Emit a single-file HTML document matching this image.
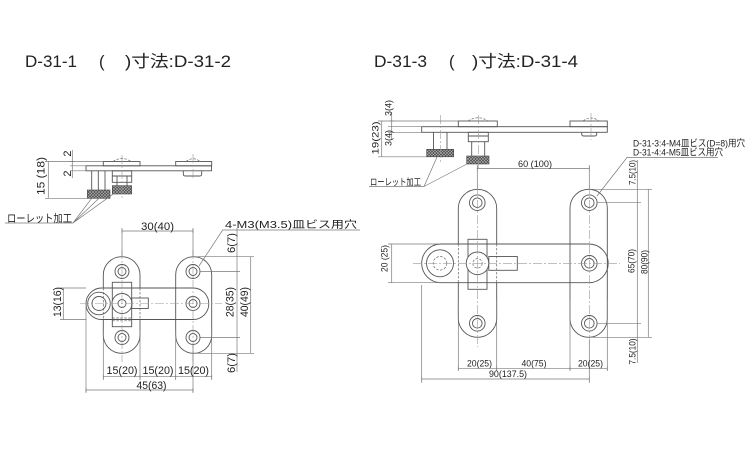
<!DOCTYPE html>
<html><head><meta charset="utf-8"><style>
html,body{margin:0;padding:0;background:#fff;}
svg{display:block;}
text{font-family:"Liberation Sans","Noto Sans CJK JP",sans-serif;fill:#222;}
.o{fill:none;stroke:#555;stroke-width:0.9;}
.w{fill:#fff;stroke:#555;stroke-width:0.9;}
.h{fill:none;stroke:#666;stroke-width:0.7;stroke-dasharray:2.5 1.5;}
.d{fill:none;stroke:#7a7a7a;stroke-width:0.7;}
.c{fill:none;stroke:#999;stroke-width:0.6;stroke-dasharray:9 2 2 2;}
.s{font-size:11px;}
.r{font-size:9.5px;}
</style></head><body>
<svg width="750" height="450" viewBox="0 0 750 450" xmlns="http://www.w3.org/2000/svg">
<defs>
<pattern id="kn" width="3" height="3" patternUnits="userSpaceOnUse">
<rect width="3" height="3" fill="#4a4a4a"/>
<path d="M0,0 L3,3 M3,0 L0,3" stroke="#b5b5b5" stroke-width="0.55"/>
</pattern>
</defs>

<!-- TITLES -->
<text x="25" y="67" font-size="16.5" textLength="52" lengthAdjust="spacingAndGlyphs">D-31-1</text>
<text x="99" y="67" font-size="16.5">(</text>
<text x="125" y="67" font-size="16.5" textLength="106" lengthAdjust="spacingAndGlyphs">)寸法:D-31-2</text>
<text x="374" y="67" font-size="16.5" textLength="53" lengthAdjust="spacingAndGlyphs">D-31-3</text>
<text x="449" y="67" font-size="16.5">(</text>
<text x="472" y="67" font-size="16.5" textLength="106" lengthAdjust="spacingAndGlyphs">)寸法:D-31-4</text>

<!-- ================= LEFT SIDE VIEW ================= -->
<rect class="o" x="86" y="165.8" width="125.5" height="5"/>
<rect class="o" x="103.3" y="161.5" width="36.7" height="4.3"/>
<rect class="o" x="175.7" y="161.5" width="36" height="4.3"/>
<path class="h" d="M113,161.5 Q122,155.5 131,161.5"/>
<path class="h" d="M186,161.5 Q193,156 200,161.5"/>
<rect class="o" x="112.3" y="170.8" width="19.4" height="11.5"/>
<line class="o" x1="112.3" y1="176" x2="131.7" y2="176"/>
<path class="o" d="M117,176 V185.7 M127,176 V185.7"/>
<rect x="112.3" y="185.7" width="19.4" height="8.3" fill="url(#kn)" stroke="#444" stroke-width="0.6"/>
<path class="o" d="M91.7,170.8 V190 M98.3,170.8 V190 M105,170.8 V190"/>
<rect x="87.3" y="190" width="22.7" height="8.3" fill="url(#kn)" stroke="#444" stroke-width="0.6"/>
<path class="o" d="M183.3,170.8 V174 Q183.3,176 185.3,176 H199.7 Q201.7,176 201.7,174 V170.8"/>
<line class="c" x1="122" y1="155" x2="122" y2="198"/>
<line class="c" x1="193" y1="154" x2="193" y2="180"/>
<!-- dims -->
<path class="d" d="M48.3,161.5 V198.3 M45,161.5 H103 M45,198.3 H87 M46.3,161.5 H50.3 M46.3,198.3 H50.3"/>
<path class="d" d="M72.3,150 V178 M70,165.8 H86 M70,170.8 H86 M70.3,161.5 H74.3 M70.3,165.8 H74.3 M70.3,170.8 H74.3"/>
<text class="s" transform="translate(41.5,176) rotate(-90)" text-anchor="middle" dominant-baseline="central" textLength="38" lengthAdjust="spacingAndGlyphs">15 (18)</text>
<text class="s" transform="translate(68,153.5) rotate(-90)" text-anchor="middle" dominant-baseline="central">2</text>
<text class="s" transform="translate(68,173.5) rotate(-90)" text-anchor="middle" dominant-baseline="central">2</text>
<!-- leader -->
<text class="s" x="7" y="222" textLength="65" lengthAdjust="spacingAndGlyphs">ローレット加工</text>
<path class="d" d="M5,223 H73 L91.7,198.3 M73,223 L100,197.3 M73,223 L115,192.7"/>

<!-- ================= LEFT FRONT VIEW ================= -->
<rect class="o" x="103.3" y="256.7" width="36.7" height="96.6" rx="18.35"/>
<rect class="w" x="86" y="288" width="122.8" height="31.5" rx="15.75"/>
<path class="h" d="M103.3,288 V319.5 M140,288 V319.5"/>
<rect class="o" x="175.7" y="256.7" width="36" height="96.6" rx="18"/>
<circle class="o" cx="99" cy="303.5" r="11.3"/>
<circle class="o" cx="99" cy="303.5" r="7"/>
<rect class="o" x="112.3" y="282.3" width="19.4" height="44.4"/>
<path class="h" d="M112.3,318 H131.7 M112.3,320.8 H131.7"/>
<circle class="w" cx="122" cy="303.5" r="10"/>
<circle class="o" cx="122" cy="303.5" r="4"/>
<rect class="o" x="131.7" y="298" width="16.6" height="10.5"/>
<g class="o">
<circle cx="122" cy="271.5" r="7"/><circle cx="122" cy="271.5" r="4"/>
<circle cx="122" cy="337.5" r="7"/><circle cx="122" cy="337.5" r="4"/>
<circle cx="193" cy="271.5" r="7"/><circle cx="193" cy="271.5" r="4"/>
<circle cx="193" cy="303.5" r="7"/><circle cx="193" cy="303.5" r="4"/>
<circle cx="193" cy="337.5" r="7"/><circle cx="193" cy="337.5" r="4"/>
</g>
<line class="c" x1="80" y1="303.5" x2="222" y2="303.5"/>
<line class="c" x1="122" y1="250" x2="122" y2="362"/>
<line class="c" x1="193" y1="250" x2="193" y2="362"/>
<!-- extension lines -->
<path class="d" d="M122,228 V256 M193,228 V256 M193,345 V393 M86,306 V393 M103.3,330 V380 M140,330 V380 M175.7,330 V380 M211.7,330 V380"/>
<!-- dim lines -->
<path class="d" d="M122,231 H193 M122,229 V233 M193,229 V233"/>
<path class="d" d="M103.3,376.7 H211.7 M103.3,374.7 V378.7 M140,374.7 V378.7 M175.7,374.7 V378.7 M211.7,374.7 V378.7"/>
<path class="d" d="M86,390 H193 M86,388 V392 M193,388 V392"/>
<path class="d" d="M60,288 H86 M60,319.5 H86 M63.3,288 V319.5 M61.3,288 H65.3 M61.3,319.5 H65.3"/>
<path class="d" d="M195,256.7 H254 M200,271.5 H240 M200,337.5 H240 M195,353.3 H254 M237,228 V372 M235,256.7 H239 M235,271.5 H239 M235,337.5 H239 M235,353.3 H239 M250.7,256.7 V353.3 M248.7,256.7 H252.7 M248.7,353.3 H252.7"/>
<text class="s" x="157.5" y="230" text-anchor="middle" textLength="33" lengthAdjust="spacingAndGlyphs">30(40)</text>
<text class="s" x="122" y="374" text-anchor="middle" textLength="31" lengthAdjust="spacingAndGlyphs">15(20)</text>
<text class="s" x="158" y="374" text-anchor="middle" textLength="31" lengthAdjust="spacingAndGlyphs">15(20)</text>
<text class="s" x="193.5" y="374" text-anchor="middle" textLength="31" lengthAdjust="spacingAndGlyphs">15(20)</text>
<text class="s" x="151.5" y="389" text-anchor="middle" textLength="30" lengthAdjust="spacingAndGlyphs">45(63)</text>
<text class="s" transform="translate(58,302) rotate(-90)" text-anchor="middle" dominant-baseline="central" textLength="30" lengthAdjust="spacingAndGlyphs">13(16)</text>
<text class="s" transform="translate(232,243) rotate(-90)" text-anchor="middle" dominant-baseline="central" textLength="20" lengthAdjust="spacingAndGlyphs">6(7)</text>
<text class="s" transform="translate(230.5,302) rotate(-90)" text-anchor="middle" dominant-baseline="central" textLength="30" lengthAdjust="spacingAndGlyphs">28(35)</text>
<text class="s" transform="translate(245,302) rotate(-90)" text-anchor="middle" dominant-baseline="central" textLength="30" lengthAdjust="spacingAndGlyphs">40(49)</text>
<text class="s" transform="translate(232,363) rotate(-90)" text-anchor="middle" dominant-baseline="central" textLength="20" lengthAdjust="spacingAndGlyphs">6(7)</text>
<!-- leader -->
<text x="225" y="228" font-size="10" textLength="132" lengthAdjust="spacingAndGlyphs">4-M3(M3.5)皿ビス用穴</text>
<path class="d" d="M360,230 H222.7 L199,266"/>

<!-- ================= RIGHT SIDE VIEW ================= -->
<rect class="o" x="421.7" y="126.7" width="185.6" height="5.6"/>
<rect class="o" x="458.3" y="121" width="39" height="5.7"/>
<rect class="o" x="570" y="121" width="37.3" height="5.7"/>
<path class="h" d="M468,121 Q478,114.5 488,121"/>
<path class="h" d="M583,121 Q591,115 599,121"/>
<rect class="o" x="468.3" y="132.3" width="20" height="9.4"/>
<line class="o" x1="468.3" y1="136" x2="488.3" y2="136"/>
<path class="o" d="M581.7,132.3 V134 Q581.7,136 583.7,136 H594.7 Q596.7,136 596.7,134 V132.3"/>
<path class="o" d="M433.5,132.3 V149.3 M447,132.3 V149.3"/>
<rect x="426.7" y="149.3" width="27" height="7.5" fill="url(#kn)" stroke="#444" stroke-width="0.6"/>
<path class="o" d="M471.7,141.7 V156 M484.7,141.7 V156"/>
<rect x="466.7" y="156" width="22.3" height="8" fill="url(#kn)" stroke="#444" stroke-width="0.6"/>
<line class="c" x1="440.5" y1="115" x2="440.5" y2="162"/>
<line class="c" x1="478.3" y1="115" x2="478.3" y2="170"/>
<line class="c" x1="591" y1="113" x2="591" y2="140"/>
<!-- dims -->
<path class="d" d="M381.7,121 V156.8 M378,121 H458.3 M378,156.8 H427 M379.7,121 H383.7 M379.7,156.8 H383.7"/>
<path class="d" d="M391.7,112 V140 M388,126.7 H421.7 M388,132.3 H421.7 M389.7,121 H393.7 M389.7,126.7 H393.7 M389.7,132.3 H393.7"/>
<text class="r" transform="translate(389,108) rotate(-90)" text-anchor="middle" dominant-baseline="central" textLength="16" lengthAdjust="spacingAndGlyphs">3(4)</text>
<text class="r" transform="translate(376,138) rotate(-90)" text-anchor="middle" dominant-baseline="central" textLength="33" lengthAdjust="spacingAndGlyphs">19(23)</text>
<text class="r" transform="translate(389,138) rotate(-90)" text-anchor="middle" dominant-baseline="central" textLength="16" lengthAdjust="spacingAndGlyphs">3(4)</text>
<!-- leader -->
<text class="r" x="370" y="185.5" textLength="51" lengthAdjust="spacingAndGlyphs">ローレット加工</text>
<path class="d" d="M369,186.5 H424 L437,157 M424,186.5 L467,164"/>

<!-- ================= RIGHT FRONT VIEW ================= -->
<rect class="o" x="458.3" y="189.3" width="38.4" height="148" rx="19.2"/>
<rect class="w" x="421.7" y="244" width="186.5" height="38.7" rx="19.35"/>
<path class="h" d="M458.3,244 V282.7 M496.7,244 V282.7"/>
<rect class="o" x="570" y="189.3" width="37.3" height="148" rx="18.65"/>
<circle class="o" cx="440" cy="263.3" r="13.5"/>
<circle class="h" cx="440" cy="263.3" r="6.8"/>
<rect class="o" x="468" y="239.3" width="19" height="50"/>
<path class="h" d="M468,282.7 H487"/>
<circle class="w" cx="477.5" cy="263.3" r="11.3"/>
<circle class="h" cx="477.5" cy="263.3" r="4.7"/>
<rect class="o" x="488.8" y="256.5" width="28.5" height="13.8"/>
<g class="o">
<circle cx="477.3" cy="202.7" r="7.8"/><circle cx="477.3" cy="202.7" r="4.8"/>
<circle cx="477.3" cy="323.3" r="7.8"/><circle cx="477.3" cy="323.3" r="4.8"/>
<circle cx="589.3" cy="202.7" r="7.8"/><circle cx="589.3" cy="202.7" r="4.8"/>
<circle cx="589.3" cy="263.3" r="7.8"/><circle cx="589.3" cy="263.3" r="4.8"/>
<circle cx="589.3" cy="323.3" r="7.8"/><circle cx="589.3" cy="323.3" r="4.8"/>
</g>
<line class="c" x1="413" y1="263.3" x2="620" y2="263.3"/>
<line class="c" x1="477.3" y1="185" x2="477.3" y2="347"/>
<line class="c" x1="589.3" y1="185" x2="589.3" y2="347"/>
<!-- extension lines -->
<path class="d" d="M477.3,165 V189 M589.3,165 V189 M589.3,340 V383 M421.7,285 V383 M458.3,300 V371 M496.7,300 V371 M570,300 V371 M607.3,300 V371"/>
<!-- dim lines -->
<path class="d" d="M477.3,168.5 H589.3 M477.3,166.5 V170.5 M589.3,166.5 V170.5"/>
<path class="d" d="M458.3,368.3 H607.3 M458.3,366.3 V370.3 M496.7,366.3 V370.3 M570,366.3 V370.3 M607.3,366.3 V370.3"/>
<path class="d" d="M421.7,379 H589.3 M421.7,377 V381 M589.3,377 V381"/>
<path class="d" d="M388,244 H440 M388,282.7 H440 M391.7,244 V282.7 M389.7,244 H393.7 M389.7,282.7 H393.7"/>
<path class="d" d="M592,189.3 H652 M597,202.7 H641 M597,323.3 H641 M592,337.3 H652 M637.3,160 V363 M635.3,189.3 H639.3 M635.3,202.7 H639.3 M635.3,323.3 H639.3 M635.3,337.3 H639.3 M648.3,189.3 V337.3 M646.3,189.3 H650.3 M646.3,337.3 H650.3"/>
<text class="r" x="535" y="167" text-anchor="middle" textLength="34" lengthAdjust="spacingAndGlyphs">60 (100)</text>
<text class="r" x="479.5" y="366.5" text-anchor="middle" textLength="25" lengthAdjust="spacingAndGlyphs">20(25)</text>
<text class="r" x="534" y="366.5" text-anchor="middle" textLength="25" lengthAdjust="spacingAndGlyphs">40(75)</text>
<text class="r" x="590.5" y="366.5" text-anchor="middle" textLength="25" lengthAdjust="spacingAndGlyphs">20(25)</text>
<text class="r" x="508" y="377" text-anchor="middle" textLength="38" lengthAdjust="spacingAndGlyphs">90(137.5)</text>
<text class="r" transform="translate(385,258.5) rotate(-90)" text-anchor="middle" dominant-baseline="central" textLength="27" lengthAdjust="spacingAndGlyphs">20 (25)</text>
<text class="r" transform="translate(633,172.5) rotate(-90)" text-anchor="middle" dominant-baseline="central" textLength="25" lengthAdjust="spacingAndGlyphs">7.5(10)</text>
<text class="r" transform="translate(632,261) rotate(-90)" text-anchor="middle" dominant-baseline="central" textLength="24" lengthAdjust="spacingAndGlyphs">65(70)</text>
<text class="r" transform="translate(645,262) rotate(-90)" text-anchor="middle" dominant-baseline="central" textLength="24" lengthAdjust="spacingAndGlyphs">80(90)</text>
<text class="r" transform="translate(633,351.5) rotate(-90)" text-anchor="middle" dominant-baseline="central" textLength="26" lengthAdjust="spacingAndGlyphs">7.5(10)</text>
<!-- leader -->
<text class="r" x="633" y="146.5" textLength="112" lengthAdjust="spacingAndGlyphs">D-31-3:4-M4皿ビス(D=8)用穴</text>
<text class="r" x="633" y="155.5" textLength="90" lengthAdjust="spacingAndGlyphs">D-31-4:4-M5皿ビス用穴</text>
<path class="d" d="M718,157.5 H627 L597,196"/>
</svg>
</body></html>
